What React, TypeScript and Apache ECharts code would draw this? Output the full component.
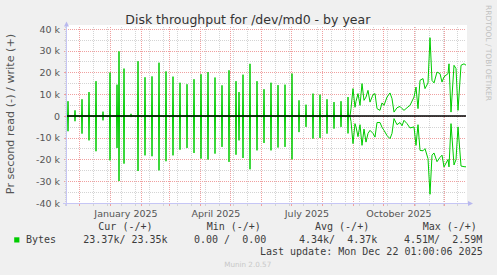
import React, { useEffect, useRef } from "react";
import * as echarts from "echarts";

// ---- time frame (days since plot start, Nov 17 2024 01:00) ----
const START_UTC = Date.UTC(2024, 10, 17, 1);
const SPAN_DAYS = 400;
const DAY_MS = 86400000;
const toDay = (iso: string) => (Date.parse(iso + "T00:00:00Z") - START_UTC) / DAY_MS;

// ---- axis definitions ----
const Y_MIN = -40000;
const Y_MAX = 40000;
const Y_STEP = 10000;
const monthGridDates = [
  "2024-12-01", "2025-01-01", "2025-02-01", "2025-03-01", "2025-04-01", "2025-05-01",
  "2025-06-01", "2025-07-01", "2025-08-01", "2025-09-01", "2025-10-01", "2025-11-01", "2025-12-01",
];
const weekGridFirst = "2024-11-17"; // biweekly (Sunday) minor grid
const xTickLabels = ["January 2025", "April 2025", "July 2025", "October 2025"];
const xTickLabelDates = ["2025-01-16", "2025-04-16", "2025-07-16", "2025-10-16"];

// ---- data: weekly spikes (day index, bytes/s) ----
const spikeDays = [2, 9, 16, 23, 30, 37, 44, 51, 53, 58, 65, 72, 79, 86, 93, 100, 107, 114, 121, 128, 135, 142, 149, 156, 163, 170, 173, 177, 184, 191, 198, 205, 212, 219, 226, 233, 240, 247, 254, 261, 268, 275, 282];
const spikeWrite = [6800, 2600, 7700, 11000, 16000, 2000, 20000, 14400, 29700, 21800, 1000, 25200, 17800, 18200, 24500, 20500, 18100, 15300, 14600, 16900, 19200, 20200, 17700, 14100, 21000, 16000, 11000, 19000, 24000, 16000, 12300, 15300, 14200, 14400, 19500, 7200, 5200, 10300, 9800, 7700, 6400, 6800, 8700];
const spikeRead = [7000, 2400, 8100, 11200, 16200, 2000, 20400, 14700, 29900, 21900, 500, 25300, 18100, 18500, 25000, 20800, 18100, 15500, 14700, 17000, 19600, 20000, 17300, 14200, 21100, 17800, 11200, 19300, 24500, 15800, 12400, 15800, 14500, 14200, 19900, 7400, 5000, 10400, 10100, 8100, 5800, 5000, 8000];

// ---- data: continuous activity (autumn) ----
const dailyDays = [284, 285, 287, 289, 290, 292, 294, 296, 298, 300, 302, 304, 307, 309, 311, 314, 316, 318, 321, 324, 326, 328, 331, 334, 336, 338, 341, 344, 348, 350, 352, 354, 357, 359, 362, 364, 366, 368, 371, 374, 376, 378, 382, 383, 385, 388, 390, 392, 395, 398, 400];
const dailyWrite = [0, 3400, 12600, 4000, 6700, 10300, 4900, 14900, 7200, 8700, 11800, 6400, 9800, 10300, 3400, 2600, 6000, 4900, 8700, 10600, 8000, 1800, 3800, 4400, 3400, 2600, 3800, 4900, 8700, 13300, 3400, 16400, 17200, 12600, 15200, 36000, 16400, 15200, 20200, 19500, 15600, 18000, 19500, 24000, 1800, 23300, 21800, 2600, 23300, 24000, 23350];
const dailyRead = [0, 2500, 12700, 3500, 5000, 9500, 4000, 13500, 6000, 12000, 8000, 6600, 8000, 9700, 3000, 3000, 5200, 6600, 9000, 10400, 8000, 1200, 4000, 3000, 4500, 2000, 3500, 5500, 5000, 13500, 4000, 15800, 16000, 15000, 19600, 36000, 18000, 17000, 21000, 19000, 18000, 23400, 20000, 23400, 3500, 22500, 20000, 5000, 23000, 23300, 23370];

// ---- legend texts ----
const legendHeaders = ["Cur (-/+)", "Min (-/+)", "Avg (-/+)", "Max (-/+)"];
const legendValues = ["23.37k/ 23.35k", "0.00 /  0.00", "4.34k/  4.37k", "4.51M/  2.59M"];
const seriesName = "Bytes";
const lastUpdate = "Last update: Mon Dec 22 01:00:06 2025";

const GREEN = "#00cc00";
const MAJOR = "#f0a0a0";
const MINOR = "#d4d4d4";
const AXIS = "#c6c6f5";
const TXT = "#555";
const SANS = '"DejaVu Sans"';
const MONO = '"DejaVu Sans Mono"';

function buildSeries(sign: number, spikes: number[], daily: number[]) {
  const pts: number[][] = [[0, 0]];
  spikeDays.forEach((d, i) => {
    pts.push([d - 0.5, 0], [d, sign * spikes[i]], [d + 0.5, 0]);
  });
  dailyDays.forEach((d, i) => pts.push([d, sign * daily[i]]));
  return pts;
}

function weekGridDays() {
  const out: number[] = [];
  for (let d = toDay(weekGridFirst); d <= SPAN_DAYS; d += 14) out.push(d);
  return out;
}

function gridRenderer(color: string) {
  return (params: any, api: any) => {
    const x0 = api.coord([api.value(0), 0])[0];
    const x = Math.round(x0 - 0.5) + 0.5;
    const top = api.coord([0, Y_MAX])[1];
    const bottom = api.coord([0, Y_MIN])[1];
    return {
      type: "group",
      children: [
        { type: "line", shape: { x1: x, y1: top - 2, x2: x, y2: bottom }, style: { stroke: color, lineWidth: 1, lineDash: [1, 1] } },
        { type: "line", shape: { x1: x, y1: bottom, x2: x, y2: bottom + 3 }, style: { stroke: color, lineWidth: 1 } },
      ],
    };
  };
}

function labelRenderer(params: any, api: any) {
  const p = api.coord([api.value(0), Y_MIN]);
  return {
    type: "text",
    style: {
      x: p[0], y: p[1] + 10, text: xTickLabels[params.dataIndex], fill: TXT,
      font: `9.5px ${SANS}`, align: "center", verticalAlign: "middle",
      textAlign: "center", textVerticalAlign: "middle",
    },
  };
}

export default function App() {
  const ref = useRef<HTMLDivElement>(null);
  useEffect(() => {
    const chart = echarts.init(ref.current!, null, { renderer: "svg" });
    const mono = (text: string, x: number, y: number, align = "left") => ({
      type: "text", x, y,
      style: { text, x: 0, y: 0, fill: "#3c3c3c", font: `10px ${MONO}`, textAlign: align, textVerticalAlign: "middle", align, verticalAlign: "middle" },
    });
    const headerX = [98.3, 206.7, 315, 422.7];
    const valueX = [83.3, 194, 299, 404];
    const graphic: any[] = [
      { type: "rect", z: -10, shape: { x: 66, y: 25, width: 401, height: 178 }, style: { fill: "#ffffff" }, silent: true },
      { type: "text", x: 247.8, y: 19.7, style: { text: "Disk throughput for /dev/md0 - by year", x: 0, y: 0, fill: "#333", font: `12.5px ${SANS}`, textAlign: "center", textVerticalAlign: "middle", align: "center", verticalAlign: "middle" } },
      { type: "text", x: 10.5, y: 114, rotation: Math.PI / 2, style: { text: "Pr second read (-) / write (+)", x: 0, y: 0, fill: TXT, font: `11.2px ${SANS}`, textAlign: "center", textVerticalAlign: "middle", align: "center", verticalAlign: "middle" } },
      { type: "text", x: 488.3, y: 53, rotation: -Math.PI / 2, style: { text: "RRDTOOL / TOBI OETIKER", x: 0, y: 0, fill: "#c0c0c0", font: `7.45px ${SANS}`, textAlign: "center", textVerticalAlign: "middle", align: "center", verticalAlign: "middle" } },
      // axes with arrows
      { type: "line", z: 20, shape: { x1: 66.5, y1: 206, x2: 66.5, y2: 26 }, style: { stroke: AXIS, lineWidth: 1 } },
      { type: "polygon", z: 20, shape: { points: [[64, 26.5], [69, 26.5], [66.5, 21.5]] }, style: { fill: "#b8b8ee" } },
      { type: "line", z: 20, shape: { x1: 63, y1: 203.5, x2: 468, y2: 203.5 }, style: { stroke: AXIS, lineWidth: 1 } },
      { type: "polygon", z: 20, shape: { points: [[468, 201], [468, 206], [473, 203.5]] }, style: { fill: "#b8b8ee" } },
      // legend
      ...legendHeaders.map((t, i) => mono(t, headerX[i], 226.7)),
      { type: "rect", shape: { x: 14.2, y: 237.3, width: 5.2, height: 5.2 }, style: { fill: GREEN } },
      mono(seriesName, 26, 239.5),
      ...legendValues.map((t, i) => mono(t, valueX[i], 239.5)),
      mono(lastUpdate, 482.7, 251.8, "right"),
      { type: "text", x: 247.7, y: 264, style: { text: "Munin 2.0.57", x: 0, y: 0, fill: "#c8c8c8", font: `7.2px ${SANS}`, textAlign: "center", textVerticalAlign: "middle", align: "center", verticalAlign: "middle" } },
    ];

    const option: any = {
      animation: false,
      backgroundColor: "#f0f0f0",
      grid: { left: 66, top: 29, width: 400, height: 174, containLabel: false },
      xAxis: { type: "value", min: 0, max: SPAN_DAYS, show: false },
      yAxis: {
        type: "value", min: Y_MIN, max: Y_MAX, interval: Y_STEP,
        axisLine: { show: false },
        axisTick: { show: true, length: 2, lineStyle: { color: MAJOR } },
        minorTick: { show: true, splitNumber: 2, length: 2, lineStyle: { color: MINOR } },
        axisLabel: {
          color: TXT, fontSize: 9.5, fontFamily: "DejaVu Sans", margin: 6,
          formatter: (v: number) => (v === 0 ? "0" : `${v / 1000} k`),
        },
        splitLine: { show: true, lineStyle: { color: MAJOR, width: 1, type: [1, 1] } },
        minorSplitLine: { show: true, lineStyle: { color: MINOR, width: 1, type: [1, 1] } },
      },
      graphic,
      series: [
        { type: "custom", z: 1, silent: true, clip: false, data: weekGridDays().map((d) => [d]), renderItem: gridRenderer(MINOR) },
        { type: "custom", z: 1, silent: true, clip: false, data: monthGridDates.map((d) => [toDay(d)]), renderItem: gridRenderer(MAJOR) },
        { type: "custom", z: 1, silent: true, clip: false, data: xTickLabelDates.map((d) => [toDay(d)]), renderItem: labelRenderer },
        { type: "line", name: "write", z: 3, showSymbol: false, silent: true, data: buildSeries(1, spikeWrite, dailyWrite), lineStyle: { color: GREEN, width: 1 }, itemStyle: { color: GREEN } },
        {
          type: "line", name: "read", z: 3, showSymbol: false, silent: true, data: buildSeries(-1, spikeRead, dailyRead), lineStyle: { color: GREEN, width: 1 }, itemStyle: { color: GREEN },
          markLine: { silent: true, symbol: "none", label: { show: false }, lineStyle: { color: "#000", width: 1.6, type: "solid" }, data: [{ yAxis: 0 }] },
        },
      ],
    };
    chart.setOption(option);
    return () => chart.dispose();
  }, []);
  return <div ref={ref} style={{ position: "absolute", left: 0, top: 0, width: 497, height: 275 }} />;
}
